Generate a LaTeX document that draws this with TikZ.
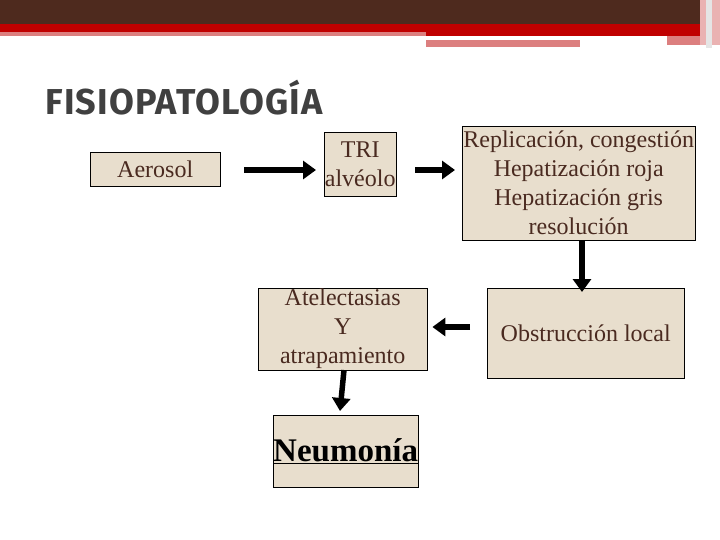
\documentclass[tikz,border=0pt]{standalone}
\usepackage{fontspec}
\setmainfont{Liberation Serif}
\newfontfamily\titlefont[LetterSpace=3]{Fira Sans}
\usetikzlibrary{arrows.meta}
\definecolor{boxfill}{HTML}{E8DECD}
\definecolor{boxtext}{HTML}{4A2A20}
\definecolor{barbrown}{HTML}{4E2A1E}
\definecolor{barred}{HTML}{C00000}
\definecolor{barpink}{HTML}{DC7F7F}
\tikzset{
 box/.style={draw=black, fill=boxfill, text=boxtext, font=\fontsize{24}{29}\selectfont, align=center, inner sep=0pt, anchor=north west},
 fat/.style={line width=5.5pt, -{Triangle[length=13pt,width=18pt]}}
}
\begin{document}
\begin{tikzpicture}[x=1pt,y=-1pt]
\useasboundingbox (0,0) rectangle (720,540);
\fill[barbrown] (0,0) rectangle (700,24);
\fill[barred] (0,24) rectangle (700,36);
\fill[barpink] (0,32) rectangle (426,36);
\fill[barpink] (426,40) rectangle (580,47);
\fill[barpink] (667,36) rectangle (700,45);
\fill[barpink!60] (700,0) rectangle (720,45);
\fill[white!80!gray] (706,0) rectangle (712,48);
\node[anchor=west, text=black!75, font=\titlefont\bfseries\fontsize{36}{40}\selectfont] (title) at (42,98) {FISIOPATOLOGÍA};
\node[box, minimum width=130pt, minimum height=34pt] (aer) at (90,152) {Aerosol};
\node[box, minimum width=72pt, minimum height=64pt] (tri) at (324,132) {TRI\\alvéolo};
\node[box, minimum width=233pt, minimum height=114pt] (rep) at (462,126) {Replicación, congestión\\Hepatización roja\\Hepatización gris\\resolución};
\node[box, minimum width=197pt, minimum height=90pt] (obs) at (487,288) {Obstrucción local};
\node[box, minimum width=169pt, minimum height=82pt] (ate) at (258,288) {Atelectasias\\Y\\atrapamiento};
\node[box, minimum width=137pt, minimum height=72pt, text=black, font=\bfseries\fontsize{33}{38}\selectfont] (neu) at (273,415) {\underline{Neumonía}};
\draw[fat] ([xshift=24pt]aer.east |- 0,170) -- ([xshift=-8pt]tri.west |- 0,170);
\draw[fat] ([xshift=19pt]tri.east |- 0,170) -- ([xshift=-7pt]rep.west |- 0,170);
\draw[fat] (rep.south -| 582,0) -- ([yshift=-4pt]obs.north -| 582,0);
\draw[fat] (470,327) -- ([xshift=5pt]ate.east |- 0,327);
\draw[fat] (344,370) -- (340,411);
\end{tikzpicture}
\end{document}
